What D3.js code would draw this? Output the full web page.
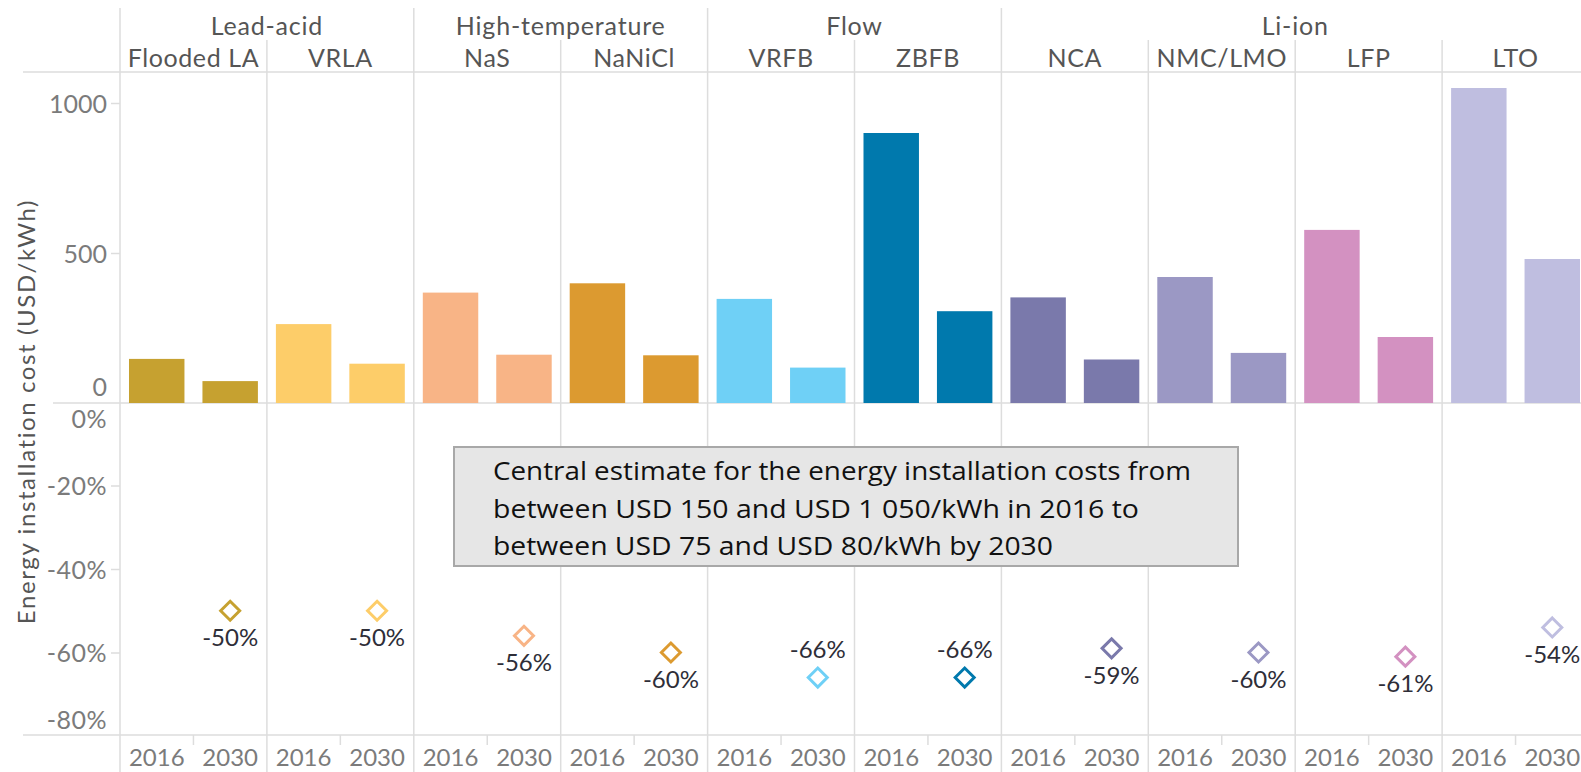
<!DOCTYPE html>
<html>
<head>
<meta charset="utf-8">
<script src="https://cdn.jsdelivr.net/npm/d3@7"></script>
<style>
  html, body { margin: 0; padding: 0; background: #fff; overflow: hidden; }
  svg { display: block; }
  .lbl { font-family: Lato, "Noto Sans", sans-serif; }
</style>
</head>
<body>
<svg id="chart" width="1581" height="772"></svg>
<script>
// Storage technologies and their families
const technologies = ["Flooded LA", "VRLA", "NaS", "NaNiCl", "VRFB", "ZBFB", "NCA", "NMC/LMO", "LFP", "LTO"];
const families = ["Lead-acid", "Lead-acid", "High-temperature", "High-temperature", "Flow", "Flow", "Li-ion", "Li-ion", "Li-ion", "Li-ion"];
const years = ["2016", "2030"];

// Energy installation cost, USD/kWh
const cost2016 = [147, 263, 368, 399, 347, 900, 352, 420, 577, 1050];
const cost2030 = [73, 131, 161, 159, 118, 306, 145, 167, 220, 480];

// Change in cost 2016 -> 2030, percent
const change = [-50, -50, -56, -60, -66, -66, -59, -60, -61, -54];
// Which change labels sit above their marker
const labelAbove = [false, false, false, false, true, true, false, false, false, false];

const colors = ["#c6a130", "#fdcd69", "#f8b486", "#dc9a30", "#6fd0f6", "#0079ad", "#7a79ab", "#9b98c4", "#d391c1", "#bfbee0"];

const costTicks = [0, 500, 1000];
const changeTicks = [0, -20, -40, -60, -80];

const noteLines = [
  "Central estimate for the energy installation costs from",
  "between USD 150 and USD 1 050/kWh in 2016 to",
  "between USD 75 and USD 80/kWh by 2030"
];

const svg = d3.select("#chart");
const W = 1581, H = 772;

const plotLeft = 120, colW = 146.9;
const headerTop = 8, subTop = 40, headerLine = 72;
const zeroY = 403, bottomY = 735;

const x = d3.scaleBand().domain(technologies).range([plotLeft, plotLeft + colW * technologies.length]);
const xi = d3.scaleBand().domain(years).range([0, x.bandwidth()]);
const barW = xi.bandwidth() * 0.755;

const y = d3.scaleLinear().domain([0, 1000]).range([zeroY, zeroY - 300]);
const yp = d3.scaleLinear().domain([0, -80]).range([402, 736]);

const grid = "#dddddd";
const tickGrey = "#7b7b7b";
const headGrey = "#555555";
const fs = 25;

// --- horizontal rules
svg.append("line").attr("x1", 23).attr("x2", W).attr("y1", headerLine).attr("y2", headerLine)
  .attr("stroke", grid).attr("stroke-width", 1.5);
svg.append("line").attr("x1", 53).attr("x2", W).attr("y1", zeroY).attr("y2", zeroY)
  .attr("stroke", grid).attr("stroke-width", 1.5);
svg.append("line").attr("x1", 23).attr("x2", W).attr("y1", bottomY).attr("y2", bottomY)
  .attr("stroke", grid).attr("stroke-width", 1.5);

// --- vertical column separators
technologies.forEach((t, i) => {
  const newFamily = i === 0 || families[i] !== families[i - 1];
  svg.append("line")
    .attr("x1", x(t)).attr("x2", x(t))
    .attr("y1", newFamily ? headerTop : subTop).attr("y2", H)
    .attr("stroke", grid).attr("stroke-width", 1.5);
});

// --- family headers
const famGroups = d3.groups(technologies.map((t, i) => ({ t, f: families[i] })), d => d.f);
famGroups.forEach(([f, items]) => {
  const x0 = x(items[0].t), x1 = x(items[items.length - 1].t) + x.bandwidth();
  svg.append("text").attr("class", "lbl")
    .attr("x", (x0 + x1) / 2).attr("y", 25)
    .attr("text-anchor", "middle").attr("dominant-baseline", "central")
    .attr("font-size", fs).attr("letter-spacing", 0.8).attr("fill", headGrey).text(f);
});

// --- technology headers
svg.selectAll("text.tech").data(technologies).join("text")
  .attr("class", "lbl tech")
  .attr("x", d => x(d) + x.bandwidth() / 2).attr("y", 57)
  .attr("text-anchor", "middle").attr("dominant-baseline", "central")
  .attr("font-size", fs).attr("letter-spacing", 0.6).attr("fill", headGrey).text(d => d);

// --- cost axis
const yAxis = svg.append("g").attr("transform", `translate(${plotLeft},0)`)
  .call(d3.axisLeft(y).tickValues(costTicks).tickSize(9).tickPadding(4).tickFormat(d3.format("d")));
yAxis.select(".domain").remove();
yAxis.selectAll(".tick line").attr("stroke", grid).attr("stroke-width", 1.5)
  .filter(d => d === 0).remove();
yAxis.selectAll(".tick text").attr("class", "lbl").attr("font-size", fs).attr("fill", tickGrey)
  .attr("dy", d => d === 0 ? "-0.3em" : "0.36em");

// --- change axis
const pAxis = svg.append("g").attr("transform", `translate(${plotLeft},0)`)
  .call(d3.axisLeft(yp).tickValues(changeTicks).tickSize(9).tickPadding(4).tickFormat(d => d + "%"));
pAxis.select(".domain").remove();
pAxis.selectAll(".tick line").attr("stroke", grid).attr("stroke-width", 1.5)
  .filter(d => d === 0 || d === -80).remove();
pAxis.selectAll(".tick text").attr("class", "lbl").attr("font-size", fs).attr("fill", tickGrey)
  .attr("letter-spacing", 0.5)
  .attr("dy", d => d === 0 ? "1.0em" : d === -80 ? "-0.3em" : "0.36em");

// --- axis title
svg.append("text").attr("class", "lbl")
  .attr("transform", `translate(25,${(72 + bottomY) / 2 + 8}) rotate(-90)`)
  .attr("text-anchor", "middle").attr("dominant-baseline", "central")
  .attr("font-size", 24).attr("letter-spacing", 1.6).attr("fill", headGrey)
  .text("Energy installation cost (USD/kWh)");

// --- bars
const barData = [];
technologies.forEach((t, i) => {
  barData.push({ t, year: "2016", v: cost2016[i], c: colors[i] });
  barData.push({ t, year: "2030", v: cost2030[i], c: colors[i] });
});
svg.append("g").selectAll("rect").data(barData).join("rect")
  .attr("x", d => x(d.t) + xi(d.year) + (xi.bandwidth() - barW) / 2)
  .attr("width", barW)
  .attr("y", d => y(d.v))
  .attr("height", d => y(0) - y(d.v))
  .attr("fill", d => d.c);

// --- change markers (diamonds) in the 2030 slot
const mk = technologies.map((t, i) => ({ t, v: change[i], c: colors[i], above: labelAbove[i] }));
const cx = d => x(d.t) + xi("2030") + xi.bandwidth() / 2;
svg.append("g").selectAll("path").data(mk).join("path")
  .attr("transform", d => `translate(${cx(d)},${yp(d.v)})`)
  .attr("d", "M0,-9.5L9.5,0L0,9.5L-9.5,0Z")
  .attr("fill", "#fff").attr("stroke", d => d.c).attr("stroke-width", 3);
svg.append("g").selectAll("text").data(mk).join("text")
  .attr("class", "lbl")
  .attr("x", cx)
  .attr("y", d => yp(d.v) + (d.above ? -29 : 26))
  .attr("text-anchor", "middle").attr("dominant-baseline", "central")
  .attr("font-size", 24).attr("fill", "#2e2e38")
  .text(d => d.v + "%");

// --- year labels and dividers under each column
technologies.forEach(t => {
  const g = svg.append("g").attr("transform", `translate(${x(t)},${bottomY})`)
    .call(d3.axisBottom(xi).tickSize(0).tickPadding(0));
  g.select(".domain").remove();
  g.selectAll(".tick text").attr("class", "lbl").attr("font-size", 24).attr("fill", tickGrey)
    .attr("y", 22).attr("dy", "0.36em");
  g.append("line").attr("x1", xi("2030")).attr("x2", xi("2030")).attr("y1", 0).attr("y2", 10)
    .attr("stroke", grid).attr("stroke-width", 1.5);
});

// --- note box
const noteWidths = [698, 646, 560];
const note = svg.append("g");
note.append("rect").attr("x", 454).attr("y", 447).attr("width", 784).attr("height", 119)
  .attr("fill", "#e6e6e6").attr("stroke", "#a8a8a8").attr("stroke-width", 2);
note.selectAll("text").data(noteLines).join("text")
  .attr("x", 493).attr("y", (d, i) => 470 + i * 37.5)
  .attr("dominant-baseline", "central")
  .attr("font-family", "'Open Sans', 'Noto Sans', sans-serif")
  .attr("font-size", 26)
  .attr("textLength", (d, i) => noteWidths[i]).attr("lengthAdjust", "spacingAndGlyphs")
  .attr("fill", "#111").text(d => d);
</script>
</body>
</html>
